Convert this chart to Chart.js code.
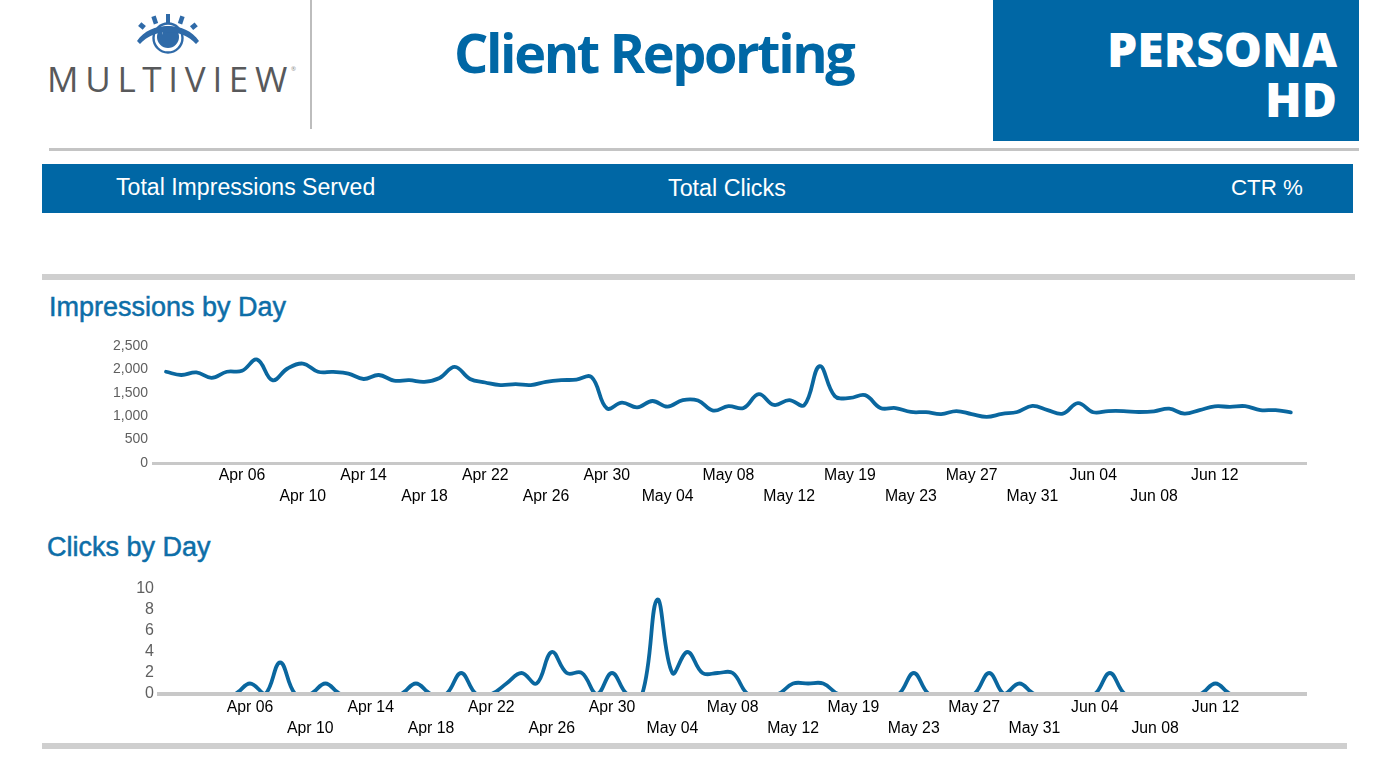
<!DOCTYPE html>
<html>
<head>
<meta charset="utf-8">
<title>Client Reporting</title>
<script src="https://cdn.jsdelivr.net/npm/chart.js@4"></script>
<style>
  html,body{margin:0;padding:0;background:#fff;width:1400px;height:757px;overflow:hidden}
  .a{position:absolute;white-space:nowrap}
  canvas{position:absolute}
</style>
</head>
<body>
<!-- logo -->
<svg class="a" style="left:130px;top:10px" width="76" height="46" viewBox="0 0 76 46">
  <g fill="#2f6aa8">
    <rect x="36" y="4" width="4" height="9"/>
    <rect x="22.5" y="6" width="4.5" height="8" transform="rotate(-18 24.7 10)"/>
    <rect x="49" y="6" width="4.5" height="8" transform="rotate(18 51.2 10)"/>
    <rect x="9.5" y="13" width="5" height="6" transform="rotate(-50 12 16)"/>
    <rect x="61.5" y="13" width="5" height="6" transform="rotate(50 63.7 16)"/>
  </g>
  <circle cx="38" cy="28" r="14.5" fill="#fff" stroke="#2f6aa8" stroke-width="2.4"/>
  <circle cx="38" cy="27" r="11" fill="#2f6aa8"/>
  <path d="M32 22 A8 8 0 0 1 39 19 A6 6 0 0 0 32 25 Z" fill="#cfe0f2"/>
  <path d="M7 31 C20 11 56 11 69 31 L66 34 C52 18 24 18 10 34 Z" fill="#2f6aa8"/>
</svg>
<div class="a" style="left:47px;top:58px;font:400 35px 'Open Sans';letter-spacing:6.7px;color:#58595b;line-height:42px">MULTIVIEW</div>
<div class="a" style="left:291px;top:65px;font:400 6px/8px 'Open Sans';color:#8a8a8a">®</div>
<div class="a" style="left:310px;top:0;width:2px;height:129px;background:#bdbdbd"></div>

<div class="a" style="left:454px;top:17px;font:700 54px 'Open Sans';color:#0067a5;line-height:70px;letter-spacing:-2.4px">Client Reporting</div>

<div class="a" style="left:993px;top:0;width:366px;height:141px;background:#0067a5"></div>
<div class="a" style="right:63px;top:24px;text-align:right;font:800 48px/50px 'Open Sans';color:#fff">PERSONA<br>HD</div>

<div class="a" style="left:49px;top:148px;width:1310px;height:3px;background:#c4c4c4"></div>
<div class="a" style="left:42px;top:164px;width:1311px;height:49px;background:#0067a5"></div>
<div class="a" style="left:116px;top:172px;font:23.1px/30px 'Liberation Sans';color:#fff">Total Impressions Served</div>
<div class="a" style="left:668px;top:173px;font:23.3px/30px 'Liberation Sans';color:#fff">Total Clicks</div>
<div class="a" style="left:1231px;top:173px;font:22.3px/30px 'Liberation Sans';color:#fff">CTR %</div>

<div class="a" style="left:42px;top:274px;width:1313px;height:6px;background:#cfcfcf"></div>
<div class="a" style="left:49px;top:291px;font:27px/32px 'Liberation Sans';color:#0d6ea8;-webkit-text-stroke:.5px #0d6ea8">Impressions by Day</div>
<div class="a" style="left:47px;top:531px;font:27px/32px 'Liberation Sans';color:#0d6ea8;-webkit-text-stroke:.5px #0d6ea8">Clicks by Day</div>
<div class="a" style="left:42px;top:743px;width:1305px;height:6px;background:#cfcfcf"></div>

<canvas id="imp" width="1240" height="180" style="left:100px;top:335px"></canvas>
<canvas id="clk" width="1240" height="180" style="left:100px;top:575px"></canvas>

<script>
const days = [
 "Apr 01","Apr 02","Apr 03","Apr 04","Apr 05","Apr 06","Apr 07","Apr 08","Apr 09","Apr 10",
 "Apr 11","Apr 12","Apr 13","Apr 14","Apr 15","Apr 16","Apr 17","Apr 18","Apr 19","Apr 20",
 "Apr 21","Apr 22","Apr 23","Apr 24","Apr 25","Apr 26","Apr 27","Apr 28","Apr 29","Apr 30",
 "May 01","May 02","May 03","May 04","May 05","May 06","May 07","May 08","May 09","May 10",
 "May 11","May 12","May 16","May 17","May 18","May 19","May 20","May 21","May 22","May 23",
 "May 24","May 25","May 26","May 27","May 28","May 29","May 30","May 31","Jun 01","Jun 02",
 "Jun 03","Jun 04","Jun 05","Jun 06","Jun 07","Jun 08","Jun 09","Jun 10","Jun 11","Jun 12",
 "Jun 13","Jun 14","Jun 15","Jun 16","Jun 17"];
const impressions = [
 1950,1880,1935,1820,1950,1970,2210,1770,2020,2125,
 1950,1945,1910,1795,1880,1760,1770,1735,1815,2055,
 1795,1720,1665,1685,1665,1735,1770,1780,1835,1170,
 1290,1190,1325,1205,1345,1335,1120,1215,1175,1470,
 1240,1345,1240,2070,1430,1390,1450,1175,1175,1090,
 1085,1045,1110,1045,985,1050,1090,1220,1130,1055,
 1280,1085,1110,1110,1090,1105,1160,1055,1130,1210,
 1200,1215,1130,1130,1080];
const clicks = [
 0,0,0,0,0,1,0,3,0,0,
 1,0,0,0,0,0,1,0,0,2,
 0,0,1,2,1,4,2,2,0,2,
 0,0,9,2,4,2,2,2,0,0,
 0,1,1,1,0,0,0,0,0,2,
 0,0,0,0,2,0,1,0,0,0,
 0,0,2,0,0,0,0,0,0,1,
 0,0,0,0,0];
const impTicks = [0,500,1000,1500,2000,2500];
const clkTicks = [0,2,4,6,8,10];
const labelIndexes = [5,9,13,17,21,25,29,33,37,41,45,49,53,57,61,65,69];

function draw(id, values, yTicks, cfg){
  new Chart(document.getElementById(id), {
    type:'line',
    data:{datasets:[{
      data:values.map((v,i)=>({x:i,y:v})),
      borderColor:'#0a679f', borderWidth:3.8, pointRadius:0, tension:cfg.tension,
      borderCapStyle:'round', fill:false
    }]},
    options:{
      responsive:false, animation:false, devicePixelRatio:1,
      plugins:{legend:{display:false},tooltip:{enabled:false},title:{display:false}},
      layout:{autoPadding:false,padding:{top:cfg.top,left:0,right:34,bottom:0}},
      scales:{
        x:{
          type:'linear', min:cfg.xmin, max:75,
          afterBuildTicks:s=>{s.ticks=labelIndexes.map(v=>({value:v}));},
          afterFit:s=>{s.height=cfg.xh;},
          grid:{display:false,drawTicks:false},
          border:{display:true,color:'#c8c8c8',width:cfg.axisW,z:1},
          ticks:{
            autoSkip:false,maxRotation:0,minRotation:0,padding:cfg.xpad,color:'#000',
            font:{family:'Liberation Sans',size:15.8,lineHeight:1.33},
            callback:(v,i)=> i%2===0 ? [days[v]] : ['',days[v]]
          }
        },
        y:{
          min:0,max:yTicks[yTicks.length-1],
          afterBuildTicks:s=>{s.ticks=yTicks.map(v=>({value:v}));},
          afterFit:s=>{s.width=cfg.yw;s.paddingTop=0;s.paddingBottom=0;},
          grid:{display:false,drawTicks:false},
          border:{display:false},
          ticks:{autoSkip:false,padding:5,color:'#5f5f5f',font:{family:'Liberation Sans',size:cfg.yfont},
            callback:v=>v.toLocaleString('en-US')}
        }
      }
    }
  });
}
draw('imp',impressions,impTicks,{top:11,xh:52,yw:53,xmin:-0.855,xpad:2.5,yfont:14,tension:0.4,axisW:3});
draw('clk',clicks,clkTicks,{top:14,xh:61,yw:59,xmin:-1.03,xpad:3.5,yfont:16,tension:0.4,axisW:4});
</script>
</body>
</html>
